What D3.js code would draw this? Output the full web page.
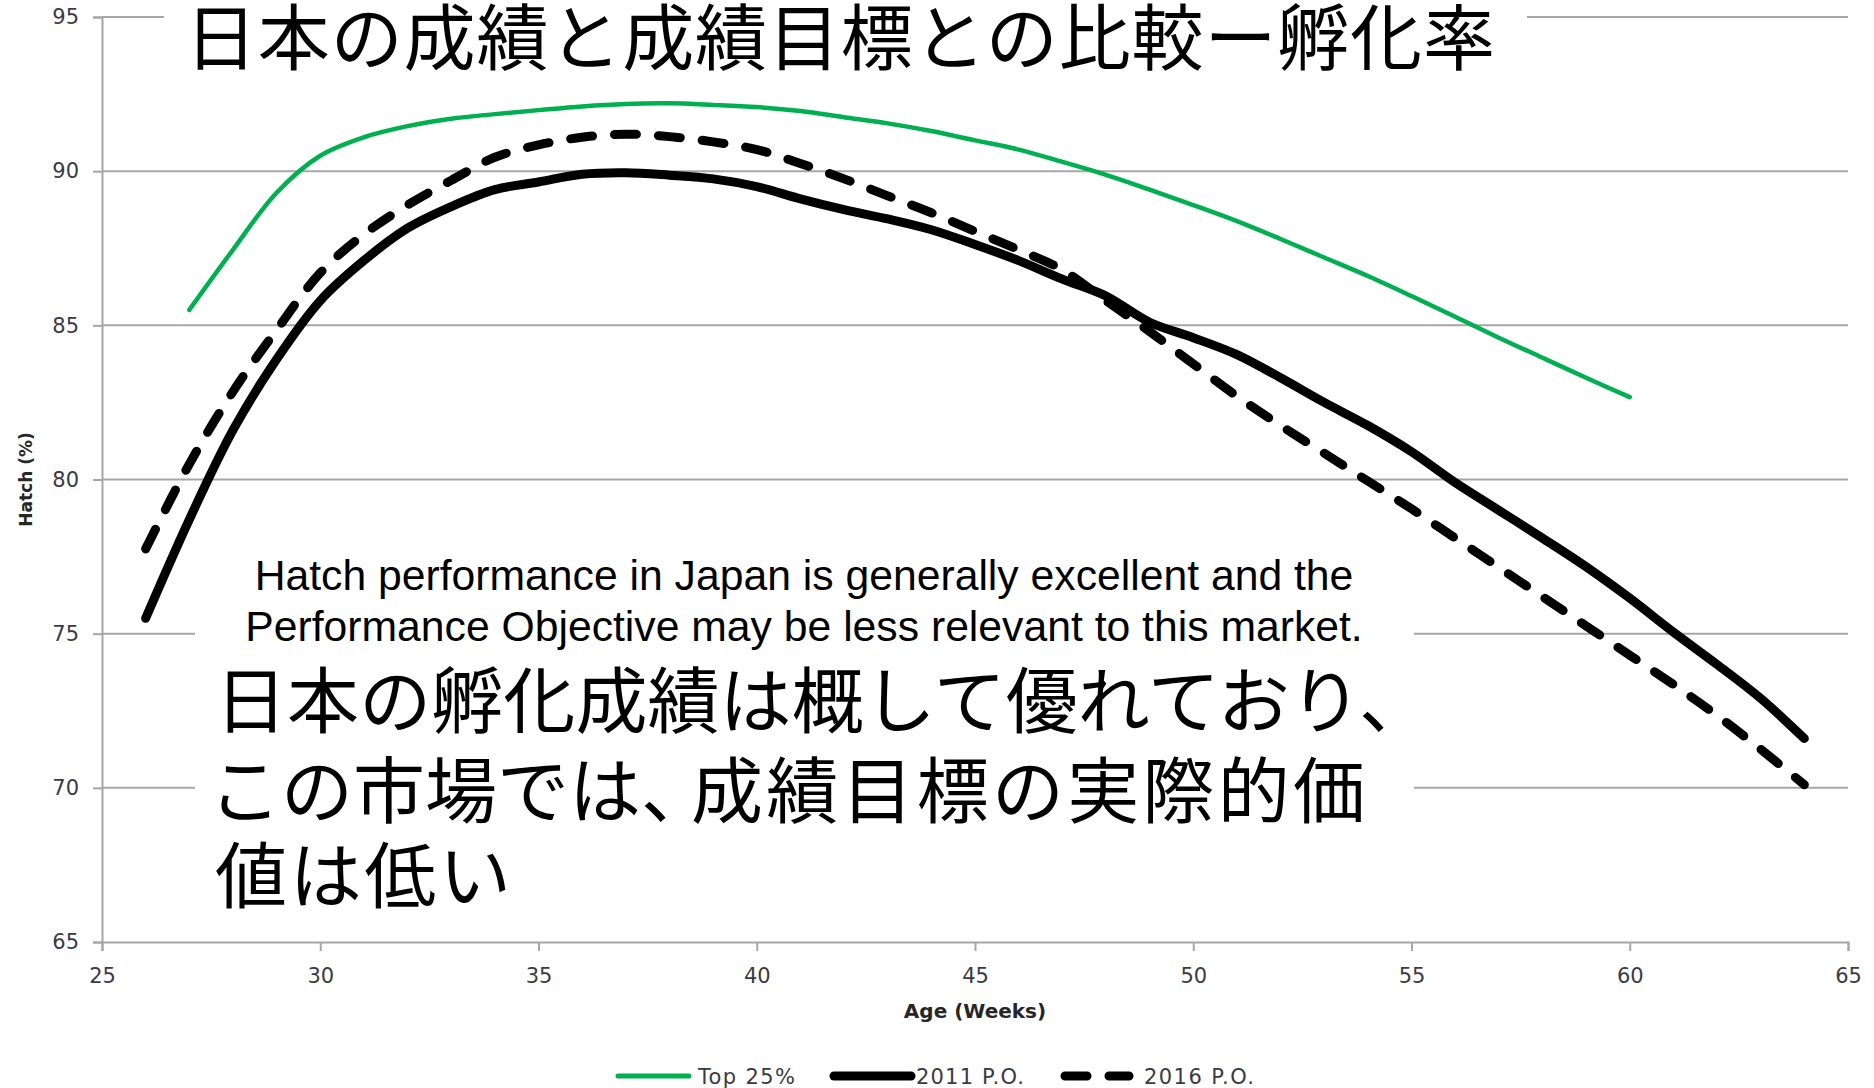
<!DOCTYPE html>
<html>
<head>
<meta charset="utf-8">
<script src="https://cdn.jsdelivr.net/npm/d3@7"></script>
<style>
	body { margin: 0; background: #fff; }
	svg { display: block; }
</style>
</head>
<body>
<div id="chart"></div>
<script>
// series data (week -> hatch %)
const top25Weeks = [27, 28, 29, 30, 31, 32, 33, 34, 35, 36, 37, 38, 39, 40, 41, 42, 43, 44, 45, 46, 47, 48, 49, 50, 51, 52, 53, 54, 55, 56, 57, 58, 59, 60];
const top25Values = [85.5, 87.45, 89.3, 90.5, 91.1, 91.46, 91.7, 91.85, 91.98, 92.1, 92.18, 92.2, 92.15, 92.08, 91.95, 91.75, 91.55, 91.3, 91.0, 90.7, 90.3, 89.88, 89.4, 88.9, 88.38, 87.8, 87.2, 86.6, 85.95, 85.28, 84.6, 83.95, 83.3, 82.67];

const poWeeks = [26, 27, 28, 29, 30, 31, 32, 33, 34, 35, 36, 37, 38, 39, 40, 41, 42, 43, 44, 45, 46, 47, 48, 49, 50, 51, 52, 53, 54, 55, 56, 57, 58, 59, 60, 61, 62, 63, 64];
const po2011Values = [75.5, 78.7, 81.6, 83.9, 85.8, 87.1, 88.15, 88.85, 89.4, 89.65, 89.9, 89.95, 89.87, 89.75, 89.5, 89.1, 88.75, 88.45, 88.1, 87.62, 87.1, 86.5, 85.95, 85.1, 84.6, 84.05, 83.3, 82.5, 81.75, 80.9, 79.9, 79.0, 78.1, 77.17, 76.15, 75.05, 74.0, 72.9, 71.6];
const po2016Values = [77.75, 80.5, 82.85, 84.85, 86.7, 87.95, 88.9, 89.7, 90.45, 90.85, 91.1, 91.2, 91.12, 90.95, 90.7, 90.25, 89.75, 89.2, 88.65, 88.05, 87.45, 86.8, 85.8, 84.8, 83.75, 82.7, 81.75, 80.85, 79.95, 79.05, 78.1, 77.15, 76.2, 75.25, 74.3, 73.35, 72.35, 71.25, 70.1];

const xTicks = [25, 30, 35, 40, 45, 50, 55, 60, 65];
const yTicks = [65, 70, 75, 80, 85, 90, 95];

const seriesNames = ["Top 25%", "2011 P.O.", "2016 P.O."];

const titleText = "日本の成績と成績目標との比較ー孵化率";
const noteEnglish = [
	"Hatch performance in Japan is generally excellent and the",
	"Performance Objective may be less relevant to this market."
];
const noteJapanese = [
	"日本の孵化成績は概して優れており、",
	"この市場では、",
	"成績目標の実際的価",
	"値は低い"
];

const width = 1874, height = 1088;
const plot = { left: 102, right: 1848, top: 17, bottom: 942 };

const svg = d3.select("#chart").append("svg")
	.attr("width", width)
	.attr("height", height)
	.style("background", "#fff");

const x = d3.scaleLinear().domain([25, 65]).range([plot.left, plot.right]);
const y = d3.scaleLinear().domain([65, 95]).range([plot.bottom, plot.top]);

const gridColor = "#a6a6a6";
const tickFont = "'DejaVu Sans', sans-serif";

// horizontal gridlines
svg.append("g")
	.selectAll("line")
	.data(yTicks.filter(d => d !== 65))
	.join("line")
	.attr("x1", plot.left)
	.attr("x2", plot.right)
	.attr("y1", d => y(d))
	.attr("y2", d => y(d))
	.attr("stroke", gridColor)
	.attr("stroke-width", 2);

// y axis
const yAxis = svg.append("g")
	.attr("transform", `translate(${plot.left},0)`)
	.call(d3.axisLeft(y).tickValues(yTicks).tickSize(9).tickPadding(14));
yAxis.select(".domain").attr("stroke", gridColor).attr("stroke-width", 2);
yAxis.selectAll(".tick line").attr("stroke", gridColor).attr("stroke-width", 2);
yAxis.selectAll(".tick text")
	.attr("fill", "#3a3a44")
	.style("font-family", tickFont)
	.style("font-size", "21px");

// x axis
const xAxis = svg.append("g")
	.attr("transform", `translate(0,${plot.bottom})`)
	.call(d3.axisBottom(x).tickValues(xTicks).tickSize(9).tickPadding(17));
xAxis.select(".domain").attr("stroke", gridColor).attr("stroke-width", 2);
xAxis.selectAll(".tick line").attr("stroke", gridColor).attr("stroke-width", 2);
xAxis.selectAll(".tick text")
	.attr("fill", "#3a3a44")
	.style("font-family", tickFont)
	.style("font-size", "21px");

// axis titles
svg.append("text")
	.attr("x", (plot.left + plot.right) / 2)
	.attr("y", 1018)
	.attr("text-anchor", "middle")
	.attr("fill", "#262626")
	.style("font-family", tickFont)
	.style("font-weight", "bold")
	.style("font-size", "20px")
	.text("Age (Weeks)");

svg.append("text")
	.attr("transform", `translate(32,${(plot.top + plot.bottom) / 2}) rotate(-90)`)
	.attr("text-anchor", "middle")
	.attr("fill", "#262626")
	.style("font-family", tickFont)
	.style("font-weight", "bold")
	.style("font-size", "17px")
	.text("Hatch (%)");

// white boxes behind the title and the note (they hide the gridlines)
svg.append("rect")
	.attr("x", 164).attr("y", 0)
	.attr("width", 1527 - 164).attr("height", 85)
	.attr("fill", "#fff");
svg.append("rect")
	.attr("x", 195).attr("y", 540)
	.attr("width", 1414 - 195).attr("height", 385)
	.attr("fill", "#fff");

// lines
const line = d3.line()
	.x(d => x(d[0]))
	.y(d => y(d[1]))
	.curve(d3.curveCatmullRom.alpha(0.5));

const dash = "22,22";

svg.append("path")
	.datum(d3.zip(top25Weeks, top25Values))
	.attr("d", line)
	.attr("fill", "none")
	.attr("stroke", "#00b050")
	.attr("stroke-width", 4.5)
	.attr("stroke-linecap", "round");

svg.append("path")
	.datum(d3.zip(poWeeks, po2011Values))
	.attr("d", line)
	.attr("fill", "none")
	.attr("stroke", "#000")
	.attr("stroke-width", 9)
	.attr("stroke-linecap", "round")
	.attr("stroke-linejoin", "round");

svg.append("path")
	.datum(d3.zip(poWeeks, po2016Values))
	.attr("d", line)
	.attr("fill", "none")
	.attr("stroke", "#000")
	.attr("stroke-width", 9)
	.attr("stroke-linecap", "round")
	.attr("stroke-dasharray", dash);

// title
const cjk = "'Noto Sans CJK JP', 'Noto Sans CJK SC', sans-serif";
svg.append("text")
	.attr("x", 185)
	.attr("y", 64)
	.attr("textLength", 1310)
	.attr("lengthAdjust", "spacing")
	.attr("fill", "#000")
	.style("font-family", cjk)
	.style("font-size", "72px")
	.text(titleText);

// english note
svg.append("g")
	.selectAll("text")
	.data(noteEnglish)
	.join("text")
	.attr("x", 804)
	.attr("y", (d, i) => 590 + i * 51)
	.attr("text-anchor", "middle")
	.attr("fill", "#000")
	.style("font-family", "'Liberation Sans', Arial, sans-serif")
	.style("font-size", "42.7px")
	.text(d => d);

// japanese note (line 2 is split so the comma stays narrow)
const jpX = [215, 209, 691, 215];
const jpY = [727, 817, 817, 902];
const jpLen = [1216, 504, 674, 296];
svg.append("g")
	.selectAll("text")
	.data(noteJapanese)
	.join("text")
	.attr("x", (d, i) => jpX[i])
	.attr("y", (d, i) => jpY[i])
	.attr("textLength", (d, i) => jpLen[i])
	.attr("lengthAdjust", "spacing")
	.attr("fill", "#000")
	.style("font-family", cjk)
	.style("font-size", "72px")
	.text(d => d);

// legend
const legendY = 1076;
const legendItems = [
	{ name: seriesNames[0], x1: 618, x2: 689, tx: 698, len: 97, color: "#00b050", w: 5, dash: null },
	{ name: seriesNames[1], x1: 834, x2: 911, tx: 916, len: 108, color: "#000", w: 9, dash: null },
	{ name: seriesNames[2], x1: 1065, x2: 1129, tx: 1144, len: 110, color: "#000", w: 9, dash: dash }
];
const legend = svg.append("g");
legend.selectAll("line")
	.data(legendItems)
	.join("line")
	.attr("x1", d => d.x1)
	.attr("x2", d => d.x2)
	.attr("y1", legendY)
	.attr("y2", legendY)
	.attr("stroke", d => d.color)
	.attr("stroke-width", d => d.w)
	.attr("stroke-linecap", "round")
	.attr("stroke-dasharray", d => d.dash);
legend.selectAll("text")
	.data(legendItems)
	.join("text")
	.attr("x", d => d.tx)
	.attr("y", legendY + 8)
	.attr("textLength", d => d.len)
	.attr("lengthAdjust", "spacing")
	.attr("fill", "#3a3a44")
	.style("font-family", tickFont)
	.style("font-size", "21px")
	.text(d => d.name);
</script>
</body>
</html>
